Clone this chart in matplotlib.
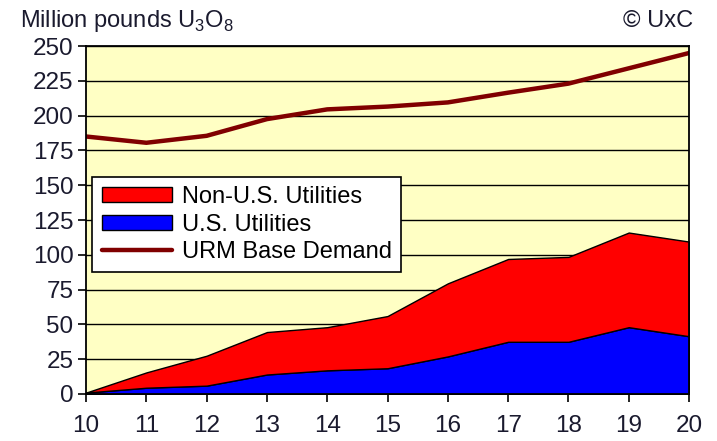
import numpy as np
import matplotlib.pyplot as plt

plt.rcParams['font.family'] = ['Liberation Sans', 'DejaVu Sans']
plt.rcParams['mathtext.fontset'] = 'custom'
plt.rcParams['mathtext.rm'] = 'Liberation Sans'

years = [10, 11, 12, 13, 14, 15, 16, 17, 18, 19, 20]
us_util = [1, 4.5, 6, 14, 17, 18.5, 27, 37.5, 37.5, 48, 41.5]
total_util = [1, 15.5, 27.5, 44.5, 48, 56, 79.5, 97, 98.5, 116, 109.5]
non_us_util = [t - u for t, u in zip(total_util, us_util)]
base_demand = [185, 180.5, 185.5, 197.5, 204.5, 206.5, 209.5, 216.5, 223, 234, 245]

fig = plt.figure(figsize=(7.17, 4.41), dpi=100)
ax = fig.add_axes([0.12, 0.1066, 0.841, 0.789])
ax.set_facecolor('#FFFFC4')

ax.stackplot(years, us_util, non_us_util, colors=['#0000FF', '#FF0000'],
             edgecolor='black', linewidth=1.0,
             labels=['U.S. Utilities', 'Non-U.S. Utilities'], zorder=3)
ax.plot(years, base_demand, color='#800000', lw=3.2, zorder=4,
        label='URM Base Demand', solid_capstyle='round')

ax.set_xlim(10, 20)
ax.set_ylim(0, 250)
ax.set_xticks(years)
ax.set_yticks(np.arange(0, 251, 25))
ax.yaxis.grid(True, color='black', lw=1.0, zorder=1)
ax.set_axisbelow(True)
ax.tick_params(axis='both', labelsize=17.5, colors='black', length=6, width=1.2,
               direction='out', labelcolor='#1a1a2e')
ax.tick_params(axis='x', pad=9)
ax.tick_params(axis='y', pad=3)
for s in ax.spines.values():
    s.set_linewidth(1.3)
    s.set_zorder(5)

handles, labels = ax.get_legend_handles_labels()
order = [1, 0, 2]
leg = ax.legend([handles[i] for i in order], [labels[i] for i in order],
                loc='upper left', bbox_to_anchor=(0.01, 0.624), fontsize=17,
                frameon=True, fancybox=False, edgecolor='black', framealpha=1,
                handlelength=3.0, handleheight=0.6, handletextpad=0.4,
                labelspacing=0.22, borderpad=0.4, borderaxespad=0)
leg.get_frame().set_linewidth(1.2)
leg.set_zorder(6)

fig.text(0.028, 0.953, 'Million pounds U$_3$O$_8$', fontsize=17, color='#1a1a2e',
         va='center')
fig.text(0.967, 0.953, '© UxC', fontsize=17, color='#1a1a2e', ha='right',
         va='center')

fig.savefig('out.png', dpi=100)
